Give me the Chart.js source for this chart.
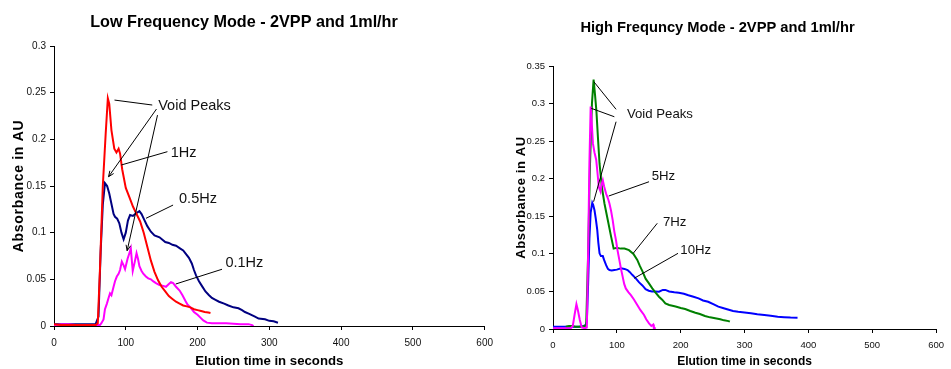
<!DOCTYPE html>
<html>
<head>
<meta charset="utf-8">
<script src="https://cdn.jsdelivr.net/npm/chart.js@4.4.0/dist/chart.umd.min.js"></script>
<style>
  body { margin: 0; background: #fff; width: 951px; height: 369px; overflow: hidden; position: relative; }
  canvas { position: absolute; top: 0; }
  #low-chart { left: 0; }
  #high-chart { left: 495px; }
</style>
</head>
<body>
<canvas id="low-chart" width="500" height="369"></canvas>
<canvas id="high-chart" width="456" height="369"></canvas>
<script>
// ---- Low frequency mode (left chart) ----
const lowTime1Hz = [0, 10, 20, 30, 40, 50, 58, 61, 64, 68, 72, 75, 77, 80, 84, 87, 90, 92, 95, 100, 105, 110, 115, 120, 125, 130, 135, 140, 145, 150, 155, 160, 165, 170, 175, 180, 185, 190, 195, 200, 205, 210, 215, 218];
const low1Hz = [0.002, 0.001, 0.001, 0.001, 0.001, 0.001, 0.001, 0.003, 0.06, 0.15, 0.206, 0.244, 0.238, 0.21, 0.19, 0.186, 0.19, 0.185, 0.168, 0.148, 0.138, 0.128, 0.12, 0.112, 0.1, 0.085, 0.07, 0.058, 0.049, 0.042, 0.037, 0.032, 0.029, 0.026, 0.024, 0.022, 0.021, 0.02, 0.018, 0.017, 0.016, 0.015, 0.0145, 0.014];

const lowTime05Hz = [0, 10, 20, 30, 40, 50, 58, 62, 65, 68, 71, 74, 77, 80, 83, 85, 88, 91, 94, 97, 100, 103, 106, 110, 113, 119, 122, 125, 130, 135, 140, 147, 155, 160, 165, 170, 176, 180, 184, 188, 192, 195, 198, 202, 206, 211, 216, 220, 225, 230, 237, 243, 250, 257, 262, 266, 272, 280, 285, 294, 300, 306, 312];
const low05Hz = [0.002, 0.002, 0.002, 0.002, 0.002, 0.002, 0.002, 0.01, 0.08, 0.13, 0.153, 0.15, 0.142, 0.131, 0.12, 0.117, 0.115, 0.11, 0.1, 0.093, 0.1, 0.113, 0.119, 0.118, 0.12, 0.123, 0.12, 0.115, 0.107, 0.101, 0.097, 0.095, 0.09, 0.089, 0.087, 0.086, 0.083, 0.081, 0.077, 0.073, 0.067, 0.06, 0.054, 0.048, 0.043, 0.037, 0.033, 0.03, 0.028, 0.026, 0.024, 0.022, 0.02, 0.019, 0.017, 0.015, 0.013, 0.01, 0.008, 0.0072, 0.0055, 0.005, 0.0035];

const lowTime01Hz = [0, 5, 10, 20, 30, 40, 50, 60, 64, 66, 69, 71, 73.7, 76, 78, 80, 83, 85, 87.5, 90, 92, 94.5, 97, 99, 102.5, 105, 107, 109.7, 112.6, 115, 117, 119, 122, 124.4, 128, 131.3, 135, 138, 142, 147, 152, 156, 160, 163, 166, 170, 175, 179, 183, 186, 190, 195, 200, 204, 208, 213, 220, 230, 240, 250, 260, 271, 276, 278];
const low01Hz = [0.001, 0.001, 0.002, 0.002, 0.001, 0.001, 0.001, 0.001, 0.001, 0.003, 0.007, 0.018, 0.024, 0.03, 0.035, 0.033, 0.042, 0.048, 0.053, 0.056, 0.06, 0.069, 0.065, 0.061, 0.072, 0.078, 0.083, 0.059, 0.069, 0.078, 0.072, 0.064, 0.059, 0.056, 0.053, 0.051, 0.05, 0.048, 0.046, 0.044, 0.043, 0.042, 0.045, 0.047, 0.046, 0.042, 0.038, 0.033, 0.027, 0.023, 0.02, 0.015, 0.012, 0.009, 0.006, 0.0036, 0.003, 0.003, 0.003, 0.0025, 0.002, 0.002, 0.001, 0];

const lowNoteText = ["Void Peaks", "1Hz", "0.5Hz", "0.1Hz"];
const lowNoteAt = [[145.2, 0.2357], [162.7, 0.1857], [174.2, 0.1358], [238.8, 0.0672]];
// [fromTime, fromValue, toTime, toValue, arrowhead]
const lowLeaders = [
    [136.9, 0.2368, 84.3, 0.2421, false],
    [142.8, 0.2325, 76.0, 0.160, true],
    [144.2, 0.226, 101.9, 0.0807, true],
    [158, 0.1868, 93.6, 0.1725, false],
    [165.9, 0.1296, 128.2, 0.1154, false],
    [234.1, 0.0608, 169.6, 0.045, false]
];

// ---- High frequency mode (right chart) ----
const highTime5Hz = [0, 10, 20, 28, 31, 34, 36.7, 39, 42, 45, 50, 53, 55, 57, 59, 61, 62.5, 65, 67.7, 70, 71.8, 74.4, 76, 78, 80, 83.2, 86, 88.4, 91, 93.5, 96, 98.7, 101, 103.9, 106.5, 109, 111.5, 114, 118, 122, 127, 132, 137, 142.6, 146, 150.4, 154, 157, 158, 161];
const high5Hz = [0.001, 0.001, 0.001, 0.001, 0.004, 0.02, 0.033, 0.025, 0.012, 0.002, 0.001, 0.002, 0.1, 0.22, 0.296, 0.27, 0.247, 0.235, 0.225, 0.205, 0.189, 0.183, 0.192, 0.198, 0.19, 0.18, 0.174, 0.167, 0.157, 0.145, 0.13, 0.118, 0.105, 0.092, 0.08, 0.07, 0.06, 0.054, 0.049, 0.045, 0.039, 0.032, 0.025, 0.0186, 0.013, 0.0075, 0.004, 0.006, 0.001, 0.001];

const highTime7Hz = [20, 25, 30, 35, 40, 45, 50, 52, 55, 58, 61, 63.6, 66, 68, 70.3, 72.9, 76.5, 80.6, 85.8, 91, 95, 100, 106, 112, 119, 126, 132, 136, 140, 145, 150, 155.5, 160, 166, 171, 176, 182, 192, 200, 207, 215, 223, 230, 238, 246, 254, 262, 268, 275, 277];
const high7Hz = [0.003, 0.004, 0.004, 0.003, 0.003, 0.003, 0.004, 0.006, 0.1, 0.22, 0.3, 0.332, 0.31, 0.29, 0.256, 0.22, 0.189, 0.167, 0.145, 0.123, 0.107, 0.108, 0.107, 0.107, 0.105, 0.1, 0.092, 0.084, 0.077, 0.067, 0.061, 0.054, 0.049, 0.043, 0.039, 0.034, 0.032, 0.03, 0.028, 0.0266, 0.024, 0.0217, 0.02, 0.0173, 0.0155, 0.0142, 0.013, 0.0115, 0.0105, 0.0097];

const highTime10Hz = [0, 10, 20, 30, 40, 48, 51, 53, 55, 57, 59, 61.5, 63, 65, 67, 69.3, 71, 72.9, 75, 78, 80, 83.2, 86, 88.4, 92, 96, 100, 106.5, 112, 116.8, 120, 124.5, 130, 134.9, 140, 145, 150, 155, 160, 166, 172, 176, 182, 190, 197, 205, 212, 220, 228, 235, 243, 251, 259, 266, 274, 282, 290, 300, 310, 320, 331, 341, 352, 362, 372, 383];
const high10Hz = [0.003, 0.003, 0.003, 0.003, 0.003, 0.004, 0.005, 0.01, 0.06, 0.12, 0.155, 0.168, 0.165, 0.158, 0.147, 0.132, 0.115, 0.1007, 0.097, 0.097, 0.092, 0.085, 0.08, 0.0785, 0.078, 0.0785, 0.079, 0.0807, 0.08, 0.0785, 0.076, 0.0718, 0.067, 0.062, 0.058, 0.053, 0.051, 0.05, 0.05, 0.0497, 0.052, 0.052, 0.05, 0.049, 0.0483, 0.047, 0.045, 0.043, 0.0408, 0.038, 0.0363, 0.033, 0.0297, 0.028, 0.026, 0.024, 0.023, 0.022, 0.0209, 0.0195, 0.0186, 0.0175, 0.0164, 0.0158, 0.0152, 0.015];

const highNoteText = ["Void Peaks", "5Hz", "7Hz", "10Hz"];
const highNoteAt = [[115.8, 0.2857], [154.6, 0.2036], [172.1, 0.142], [199.5, 0.1051]];
const highLeaders = [
    [98.8, 0.2924, 64, 0.3291, false],
    [96.1, 0.2825, 60, 0.2937, false],
    [98.8, 0.2759, 63.6, 0.1694, false],
    [150.4, 0.196, 87.3, 0.177, false],
    [163.3, 0.1407, 125.6, 0.1007, false],
    [195.8, 0.1007, 127.1, 0.0675, false]
];

const timeTicks = { min: 0, max: 600, step: 100 };
const FONT = "'Liberation Sans', Arial, sans-serif";

function toPoints(xs, ys) {
    return xs.map((x, i) => ({ x: x, y: ys[i] }));
}

function line(label, xs, ys, color) {
    return {
        label: label,
        data: toPoints(xs, ys),
        borderColor: color,
        backgroundColor: color,
        borderWidth: 2,
        pointRadius: 0,
        tension: 0,
        fill: false
    };
}

// leader lines, labels and the rotated y title
const notesPlugin = {
    id: "notes",
    afterDatasetsDraw(chart, args, opts) {
        const { ctx } = chart;
        const xs = chart.scales.x, ys = chart.scales.y;
        ctx.save();
        ctx.strokeStyle = "#000";
        ctx.fillStyle = "#000";
        ctx.lineWidth = 1;
        opts.leaders.forEach(l => {
            const x1 = xs.getPixelForValue(l[0]), y1 = ys.getPixelForValue(l[1]);
            const x2 = xs.getPixelForValue(l[2]), y2 = ys.getPixelForValue(l[3]);
            ctx.beginPath();
            ctx.moveTo(x1, y1);
            ctx.lineTo(x2, y2);
            ctx.stroke();
            if (l[4]) {
                const a = Math.atan2(y2 - y1, x2 - x1);
                ctx.beginPath();
                ctx.moveTo(x2 - 6 * Math.cos(a - 0.4), y2 - 6 * Math.sin(a - 0.4));
                ctx.lineTo(x2, y2);
                ctx.lineTo(x2 - 6 * Math.cos(a + 0.4), y2 - 6 * Math.sin(a + 0.4));
                ctx.stroke();
            }
        });
        ctx.fillStyle = "#111";
        ctx.font = opts.font;
        ctx.textBaseline = "middle";
        ctx.textAlign = "left";
        opts.text.forEach((t, i) => {
            ctx.fillText(t, xs.getPixelForValue(opts.at[i][0]), ys.getPixelForValue(opts.at[i][1]));
        });
        ctx.restore();
    },
    afterDraw(chart, args, opts) {
        const { ctx, chartArea } = chart;
        ctx.save();
        ctx.translate(opts.yTitleX, (chartArea.top + chartArea.bottom) / 2);
        ctx.rotate(-Math.PI / 2);
        ctx.font = opts.yTitleFont;
        ctx.letterSpacing = opts.yTitleSpacing;
        ctx.fillStyle = "#000";
        ctx.textAlign = "center";
        ctx.textBaseline = "middle";
        ctx.fillText("Absorbance in AU", 0, 0);
        ctx.restore();
    }
};

function makeChart(canvasId, cfg) {
    return new Chart(document.getElementById(canvasId), {
        type: "line",
        data: { datasets: cfg.datasets },
        options: {
            responsive: false,
            animation: false,
            layout: { padding: { left: 0, right: cfg.padRight, top: 0, bottom: 0 } },
            plugins: {
                legend: { display: false },
                tooltip: { enabled: false },
                title: {
                    display: true,
                    text: cfg.title,
                    color: "#000",
                    font: { family: FONT, size: cfg.titleSize, weight: "bold" },
                    padding: { top: cfg.titleTop, bottom: cfg.titleBottom }
                },
                notes: {
                    text: cfg.noteText,
                    at: cfg.noteAt,
                    leaders: cfg.leaders,
                    font: cfg.noteFont,
                    yTitleX: cfg.yTitleX,
                    yTitleFont: cfg.yTitleFont,
                    yTitleSpacing: cfg.yTitleSpacing
                }
            },
            scales: {
                x: {
                    type: "linear",
                    min: timeTicks.min,
                    max: timeTicks.max,
                    afterFit: s => { s.height = cfg.xAxisHeight; },
                    ticks: {
                        stepSize: timeTicks.step,
                        color: "#111",
                        padding: 7,
                        maxRotation: 0,
                        font: { family: FONT, size: cfg.tickSize }
                    },
                    grid: { display: true, drawOnChartArea: false, drawTicks: true, tickLength: 4, color: "#000" },
                    border: { display: true, color: "#000", width: 1 },
                    title: {
                        display: true,
                        text: "Elution time in seconds",
                        color: "#000",
                        font: { family: FONT, size: cfg.xTitleSize, weight: "bold" },
                        padding: { top: 0, bottom: 0 }
                    }
                },
                y: {
                    min: 0,
                    max: cfg.yMax,
                    afterFit: s => { s.width = cfg.yAxisWidth; },
                    ticks: {
                        stepSize: 0.05,
                        color: "#111",
                        padding: 4,
                        font: { family: FONT, size: cfg.tickSize },
                        callback: v => String(Number(v.toFixed(2)))
                    },
                    grid: { display: true, drawOnChartArea: false, drawTicks: true, tickLength: 4, color: "#000" },
                    border: { display: true, color: "#000", width: 1 }
                }
            }
        },
        plugins: [notesPlugin]
    });
}

makeChart("low-chart", {
    datasets: [
        line("1Hz", lowTime1Hz, low1Hz, "#FF0000"),
        line("0.1Hz", lowTime01Hz, low01Hz, "#FF00FF"),
        line("0.5Hz", lowTime05Hz, low05Hz, "#000080")
    ],
    title: "Low Frequency Mode - 2VPP and 1ml/hr",
    titleSize: 16.2, titleTop: 12.8, titleBottom: 13.8,
    padRight: 12,
    yMax: 0.3,
    yAxisWidth: 54,
    xAxisHeight: 43,
    tickSize: 10,
    xTitleSize: 13.2,
    noteText: lowNoteText, noteAt: lowNoteAt, leaders: lowLeaders,
    noteFont: "14.5px " + FONT,
    yTitleX: 19, yTitleFont: "bold 14px " + FONT, yTitleSpacing: "0.7px"
});

makeChart("high-chart", {
    datasets: [
        line("5Hz", highTime5Hz, high5Hz, "#FF00FF"),
        line("7Hz", highTime7Hz, high7Hz, "#008000"),
        line("10Hz", highTime10Hz, high10Hz, "#0000FF")
    ],
    title: "High Frequncy Mode - 2VPP and 1ml/hr",
    titleSize: 14.7, titleTop: 19.5, titleBottom: 28.9,
    padRight: 11,
    yMax: 0.35,
    yAxisWidth: 58,
    xAxisHeight: 40,
    tickSize: 9.5,
    xTitleSize: 12,
    noteText: highNoteText, noteAt: highNoteAt, leaders: highLeaders,
    noteFont: "13.2px " + FONT,
    yTitleX: 26, yTitleFont: "bold 13px " + FONT, yTitleSpacing: "0.6px"
});
</script>
</body>
</html>
